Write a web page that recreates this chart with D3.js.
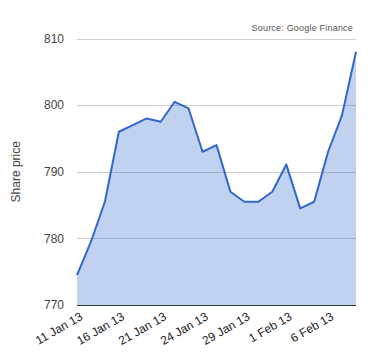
<!DOCTYPE html>
<html>
<head>
<meta charset="utf-8">
<script src="https://cdn.jsdelivr.net/npm/d3@7"></script>
<style>
  body { margin: 0; background: #fff; }
  text { font-family: Arial, "Liberation Sans", sans-serif; }
</style>
</head>
<body>
<script>
// 基本设置
const width = 380;
const height = 360;
const marginTop = 38.5;
const marginLeft = 77;
const marginRight = 24;
const marginBottom = 55;

// data
const dates = ['11 Jan 13', '14 Jan 13', '15 Jan 13', '16 Jan 13', '17 Jan 13', '18 Jan 13',
  '21 Jan 13', '22 Jan 13', '23 Jan 13', '24 Jan 13', '25 Jan 13', '28 Jan 13',
  '29 Jan 13', '30 Jan 13', '31 Jan 13', '1 Feb 13', '4 Feb 13', '5 Feb 13',
  '6 Feb 13', '7 Feb 13', '8 Feb 13'];
const prices = [774.5, 779.5, 785.5, 796.0, 797.0, 798.0, 797.5, 800.5, 799.5, 793.0,
  794.0, 787.0, 785.5, 785.5, 787.0, 791.1, 784.5, 785.5, 793.0, 798.5, 808.0];
const tickLabels = ['11 Jan 13', '16 Jan 13', '21 Jan 13', '24 Jan 13', '29 Jan 13', '1 Feb 13', '6 Feb 13'];
const yTicks = [770, 780, 790, 800, 810];

const svg = d3.select('body')
  .append('svg')
  .attr('width', width)
  .attr('height', height);

const x = d3.scalePoint()
  .domain(dates)
  .range([marginLeft, width - marginRight]);

const y = d3.scaleLinear()
  .domain([770, 810])
  .range([height - marginBottom, marginTop]);

// gridlines
svg.append('g')
  .attr('class', 'grid')
  .call(d3.axisLeft(y).tickValues(yTicks).tickSize(-(width - marginRight - marginLeft)).tickFormat(''))
  .attr('transform', `translate(${marginLeft},0)`)
  .call(g => g.select('.domain').remove())
  .call(g => g.selectAll('line').attr('stroke', '#ccc').attr('shape-rendering', 'crispEdges'));

// area + line
const data = dates.map((d, i) => ({ date: d, value: prices[i] }));

const area = d3.area()
  .x(d => x(d.date))
  .y0(y(770))
  .y1(d => y(d.value));

const line = d3.line()
  .x(d => x(d.date))
  .y(d => y(d.value));

svg.append('path')
  .datum(data)
  .attr('d', area)
  .attr('fill', '#3366cc')
  .attr('fill-opacity', 0.3);

svg.append('path')
  .datum(data)
  .attr('d', line)
  .attr('fill', 'none')
  .attr('stroke', '#3366cc')
  .attr('stroke-width', 2)
  .attr('stroke-linejoin', 'round');

// baseline
svg.append('line')
  .attr('x1', marginLeft)
  .attr('x2', width - marginRight)
  .attr('y1', y(770))
  .attr('y2', y(770))
  .attr('stroke', '#333')
  .attr('stroke-width', 1)
  .attr('shape-rendering', 'crispEdges');

// y axis labels
const yAxis = svg.append('g')
  .attr('transform', `translate(${marginLeft},0)`)
  .call(d3.axisLeft(y).tickValues(yTicks).tickSize(0).tickPadding(13))
  .call(g => g.select('.domain').remove());
yAxis.selectAll('text')
  .attr('font-size', 12)
  .attr('fill', '#444')
  .attr('font-family', 'Arial, "Liberation Sans", sans-serif');

// x axis labels
const xAxis = svg.append('g')
  .attr('transform', `translate(0,${y(770)})`)
  .call(d3.axisBottom(x).tickValues(tickLabels).tickSize(0).tickPadding(0))
  .call(g => g.select('.domain').remove());
xAxis.selectAll('text')
  .attr('font-size', 12)
  .attr('fill', '#222')
  .attr('font-family', 'Arial, "Liberation Sans", sans-serif')
  .attr('text-anchor', 'end')
  .attr('dy', null)
  .attr('y', 0)
  .attr('transform', 'translate(6,14) rotate(-30)');

// y title
svg.append('text')
  .attr('transform', `translate(20,${(marginTop + y(770)) / 2}) rotate(-90)`)
  .attr('text-anchor', 'middle')
  .attr('font-size', 12)
  .attr('fill', '#444')
  .text('Share price');

// source
svg.append('text')
  .attr('x', width - marginRight - 3)
  .attr('y', 31)
  .attr('text-anchor', 'end')
  .attr('font-size', 9)
  .attr('fill', '#555')
  .attr('letter-spacing', 0.2)
  .text('Source: Google Finance');
</script>
</body>
</html>
